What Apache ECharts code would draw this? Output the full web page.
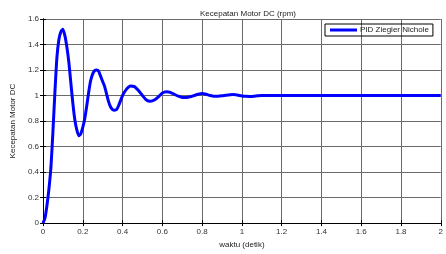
<!DOCTYPE html>
<html><head><meta charset="utf-8">
<script src="https://cdn.jsdelivr.net/npm/echarts@6/dist/echarts.min.js"></script>
<style>html,body{margin:0;padding:0;background:#fff;overflow:hidden}#c{width:446px;height:254px}</style>
</head><body><div id="c"></div>
<script>
const titleText = 'Kecepatan Motor DC (rpm)';
const xName = 'waktu (detik)';
const yName = 'Kecepatan Motor DC';
const seriesName = 'PID Ziegler Nichole';
const timeValues = [0,0.01,0.02,0.03,0.04,0.05,0.06,0.07,0.08,0.09,0.10,0.11,0.12,0.13,0.14,0.15,0.16,0.17,0.18,0.19,0.20,0.21,0.22,0.23,0.24,0.25,0.26,0.27,0.28,0.29,0.30,0.31,0.32,0.33,0.34,0.35,0.36,0.37,0.38,0.39,0.40,0.42,0.44,0.46,0.48,0.50,0.52,0.54,0.56,0.58,0.60,0.62,0.64,0.66,0.68,0.70,0.72,0.74,0.76,0.78,0.80,0.82,0.84,0.86,0.88,0.90,0.92,0.94,0.96,0.98,1.00,1.02,1.04,1.06,1.08,1.10,1.2,1.4,1.6,1.8,2.0];
const speedValues = [0,0.04,0.14,0.27,0.44,0.72,1.03,1.30,1.44,1.50,1.52,1.47,1.38,1.26,1.10,0.94,0.81,0.73,0.685,0.70,0.75,0.82,0.92,1.03,1.12,1.17,1.195,1.20,1.19,1.15,1.11,1.07,1.01,0.95,0.91,0.89,0.885,0.89,0.92,0.96,1.00,1.05,1.075,1.07,1.04,1.00,0.965,0.955,0.965,0.99,1.02,1.03,1.025,1.01,0.995,0.985,0.985,0.99,1.00,1.01,1.015,1.01,1.00,0.995,0.995,0.998,1.003,1.007,1.008,1.003,0.997,0.994,0.993,0.995,0.999,1.0,1.0,1.0,1.0,1.0,1.0];
const xTicks = {min:0, max:2, interval:0.2};
const yTicks = {min:0, max:1.6, interval:0.2};

const data = timeValues.map((t,i)=>[t, speedValues[i]]);
const font = 'Liberation Sans, Arial, sans-serif';
const gridColor = '#6a6a6a';
const chart = echarts.init(document.getElementById('c'), null, {renderer:'canvas', width:446, height:254});
chart.setOption({
  animation:false,
  backgroundColor:'#fff',
  title:{text:titleText, left:243, top:5, textAlign:'center',
    textStyle:{fontSize:8, fontWeight:'normal', color:'#222', fontFamily:font}},
  legend:{data:[seriesName], left:325, top:24, orient:'vertical',
    borderColor:'#000', borderWidth:1, padding:[2,4,2,5], icon:'rect',
    itemWidth:27, itemHeight:3, itemGap:0,
    textStyle:{fontSize:8, color:'#222', fontFamily:font, padding:[0,0,0,-2]}},
  grid:{left:43, right:2, top:19, bottom:25, containLabel:false},
  xAxis:[{type:'value', min:xTicks.min, max:xTicks.max, interval:xTicks.interval,
      name:xName, nameLocation:'middle', nameGap:15,
      nameTextStyle:{fontSize:8, color:'#222', fontFamily:font},
      axisLine:{lineStyle:{color:'#000', width:1}},
      axisTick:{inside:true, length:3, lineStyle:{color:'#000'}},
      axisLabel:{fontSize:8, color:'#333', margin:5, fontFamily:font},
      splitLine:{show:true, lineStyle:{color:gridColor, width:1}}},
    {type:'value', position:'top', min:xTicks.min, max:xTicks.max, interval:xTicks.interval,
      axisLine:{show:true, lineStyle:{color:'#000'}},
      axisTick:{inside:true, length:3, lineStyle:{color:'#000'}},
      axisLabel:{show:false}, splitLine:{show:false}}],
  yAxis:[{type:'value', min:yTicks.min, max:yTicks.max, interval:yTicks.interval,
      name:yName, nameLocation:'middle', nameGap:24,
      nameTextStyle:{fontSize:8, color:'#222', fontFamily:font},
      axisLine:{show:true, lineStyle:{color:'#000', width:1}},
      axisTick:{show:true, inside:true, length:3, lineStyle:{color:'#000'}},
      axisLabel:{fontSize:8, color:'#333', margin:4, fontFamily:font},
      splitLine:{show:true, lineStyle:{color:gridColor, width:1}}},
    {type:'value', position:'right', min:yTicks.min, max:yTicks.max, interval:yTicks.interval,
      axisLine:{show:true, lineStyle:{color:'#000'}},
      axisTick:{show:true, inside:true, length:3, lineStyle:{color:'#000'}},
      axisLabel:{show:false}, splitLine:{show:false}}],
  series:[{name:seriesName, type:'line', data:data, showSymbol:false, symbol:'none',
    smooth:0.2, lineStyle:{color:'#0000ff', width:3}, itemStyle:{color:'#0000ff'}}]
});
</script></body></html>
